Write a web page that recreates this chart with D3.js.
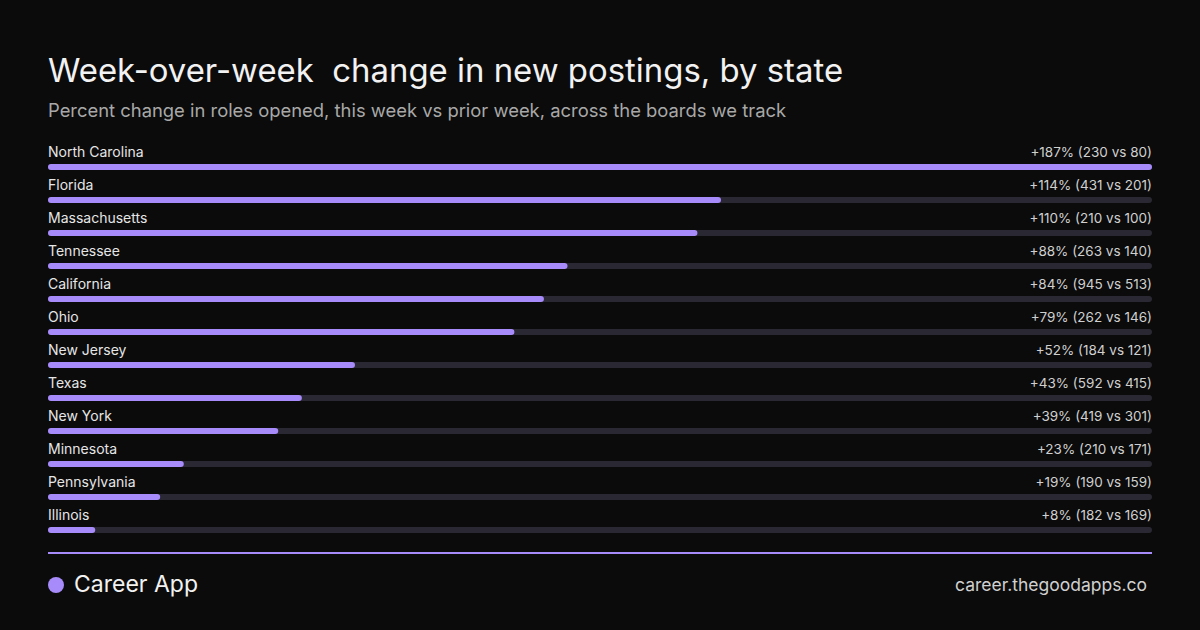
<!DOCTYPE html>
<html><head><meta charset="utf-8">
<script src="https://cdn.jsdelivr.net/npm/d3@7/dist/d3.min.js"></script>
<style>body{margin:0;background:#0b0b0b;}svg{display:block;font-family:Inter,sans-serif;}text{white-space:pre;}</style>
</head><body><svg id="c" width="1200" height="630"></svg>
<script>
const states=["North Carolina","Florida","Massachusetts","Tennessee","California","Ohio","New Jersey","Texas","New York","Minnesota","Pennsylvania","Illinois"];
const pct=[187,114,110,88,84,79,52,43,39,23,19,8];
const thisWeek=[230,431,210,263,945,262,184,592,419,210,190,182];
const priorWeek=[80,201,100,140,513,146,121,415,301,171,159,169];
const svg=d3.select("#c");
svg.append("rect").attr("width",1200).attr("height",630).attr("fill","#0b0b0b");
svg.append("text").attr("x",48).attr("y",82).attr("fill","#f2f2f2").attr("font-size",32.9).text("Week-over-week  change in new postings, by state");
svg.append("text").attr("x",48).attr("y",117).attr("fill","#a8a8a8").attr("font-size",18.4).text("Percent change in roles opened, this week vs prior week, across the boards we track");
const x=d3.scaleLinear().domain([0,d3.max(pct)]).range([48,1152]);
const y=d3.scaleBand().domain(states).range([145,541]);
const g=svg.selectAll("g.row").data(states).join("g").attr("transform",d=>`translate(0,${y(d)})`);
g.append("text").attr("x",48).attr("y",12).attr("fill","#e6e6e6").attr("font-size",14).text(d=>d);
g.append("text").attr("x",1152).attr("y",12).attr("text-anchor","end").attr("fill","#d0d0d0").attr("font-size",13.5)
 .text((d,i)=>`+${pct[i]}% (${thisWeek[i]} vs ${priorWeek[i]})`);
g.append("rect").attr("x",48).attr("y",19).attr("height",6).attr("rx",3).attr("width",x(187)-48).attr("fill","#2a2833");
g.append("rect").attr("x",48).attr("y",19).attr("height",6).attr("rx",3).attr("width",(d,i)=>x(pct[i])-48).attr("fill","#a78bfa");
svg.append("rect").attr("x",48).attr("y",552).attr("width",1104).attr("height",2).attr("fill","#a78bfa");
svg.append("circle").attr("cx",56).attr("cy",585).attr("r",8).attr("fill","#a78bfa");
svg.append("text").attr("x",74).attr("y",592).attr("fill","#f2f2f2").attr("font-size",23).text("Career App");
svg.append("text").attr("x",1147).attr("y",591).attr("text-anchor","end").attr("fill","#d0d0d0").attr("font-size",17.5).text("career.thegoodapps.co");
</script></body></html>
